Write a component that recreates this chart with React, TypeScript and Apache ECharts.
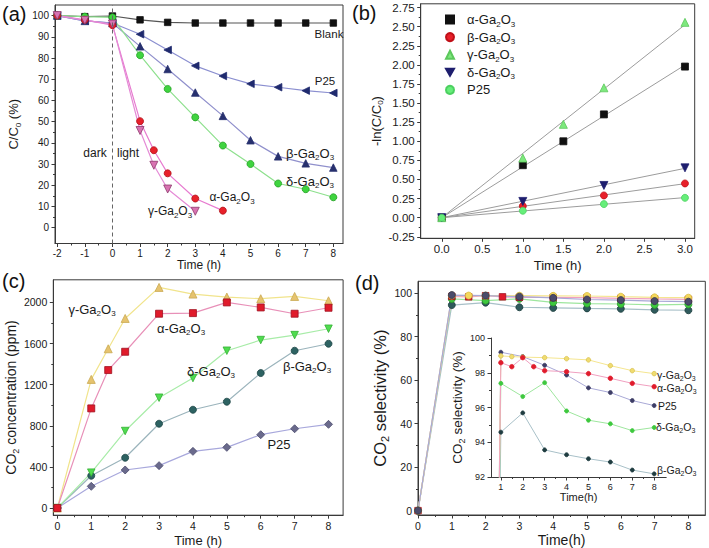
import React, { useEffect, useRef } from 'react';
import * as echarts from 'echarts';

const FONT = '"Liberation Sans", Arial, Helvetica, sans-serif';
const AX = '#3a3a3a';
const TXT = '#1a1a1a';

// ---------- (a) photocatalytic degradation ----------
const aTime = [-2, -1, 0, 1, 2, 3, 4, 5, 6, 7, 8];
const aBlank = [100, 99.5, 99.8, 98, 96.8, 96.5, 96.5, 96.5, 96.5, 96.5, 96.5];
const aP25 = [100, 97.5, 96.5, 91.2, 83.8, 76.3, 71.5, 67.8, 66.2, 64.6, 63.5];
const aBeta = [100, 97.5, 96.5, 85.5, 74.8, 63.7, 52.7, 41.2, 33.6, 30.3, 28.3];
const aDelta = [100, 99.5, 99.2, 81.3, 65.4, 52, 38.7, 30, 20.8, 18.1, 14.3];
const aAlphaTime = [-2, -1, 0, 1, 1.5, 2, 3, 4];
const aAlpha = [100, 98, 95.5, 50.2, 36.5, 25.6, 13.7, 8];
const aGammaTime = [-2, -1, 0, 1, 1.5, 2, 3];
const aGamma = [100, 97.8, 96, 45.8, 29.4, 18.2, 7.7];
const aXTicks = [-2, -1, 0, 1, 2, 3, 4, 5, 6, 7, 8];
const aYTicks = [0, 10, 20, 30, 40, 50, 60, 70, 80, 90, 100];

// ---------- (b) kinetics ----------
const bTimeAG = [0, 1, 1.5, 2, 3];
const bTime = [0, 1, 2, 3];
const bAlpha = [0, 0.687, 1.0, 1.352, 1.978];
const bGamma = [0, 0.78, 1.222, 1.7, 2.557];
const bBeta = [0, 0.152, 0.291, 0.448];
const bDelta = [0, 0.213, 0.422, 0.652];
const bP25 = [0, 0.091, 0.178, 0.26];
const bXTicks = [0, 0.5, 1, 1.5, 2, 2.5, 3];
const bYTicks = [-0.25, 0, 0.25, 0.5, 0.75, 1, 1.25, 1.5, 1.75, 2, 2.25, 2.5, 2.75];

// ---------- (c) CO2 concentration ----------
const cTimeAG = [0, 1, 1.5, 2, 3, 4, 5, 6, 7, 8];
const cTime = [0, 1, 2, 3, 4, 5, 6, 7, 8];
const cGamma = [0, 1251, 1549, 1844, 2146, 2081, 2052, 2036, 2058, 2016];
const cAlpha = [0, 969, 1342, 1520, 1890, 1896, 2000, 1951, 1890, 1948];
const cDelta = [0, 344, 749, 1073, 1264, 1530, 1634, 1682, 1744];
const cBeta = [0, 314, 489, 820, 956, 1034, 1313, 1530, 1598];
const cP25 = [0, 211, 370, 412, 551, 590, 713, 771, 814];
const cXTicks = [0, 1, 2, 3, 4, 5, 6, 7, 8];
const cYTicks = [0, 400, 800, 1200, 1600, 2000];

// ---------- (d) CO2 selectivity ----------
const dGammaTime = [0, 1, 1.5, 2, 3, 4, 5, 6, 7, 8];
const dGamma = [0, 98.97, 98.93, 98.9, 98.87, 98.81, 98.74, 98.41, 98.12, 97.95];
const dAlphaTime = [0, 1, 1.5, 2, 2.5, 3, 4, 5, 6, 7, 8];
const dAlpha = [0, 98.58, 98.35, 98.87, 98.35, 98.12, 98.06, 97.95, 97.68, 97.39, 97.2];
const dTime = [0, 1, 2, 3, 4, 5, 6, 7, 8];
const dP25 = [0, 99.18, 98.93, 98.43, 97.87, 97.13, 96.86, 96.4, 96.11];
const dDelta = [0, 97.39, 96.63, 97.43, 95.8, 95.27, 95.06, 94.67, 94.85];
const dBeta = [0, 94.58, 95.69, 93.56, 93.28, 93.05, 92.86, 92.4, 92.18];
const dXTicks = [0, 1, 2, 3, 4, 5, 6, 7, 8];
const dYTicks = [0, 20, 40, 60, 80, 100];
const iXTicks = [1, 2, 3, 4, 5, 6, 7, 8];
const iYTicks = [92, 94, 96, 98, 100];

// ---------- helpers ----------
const richify = (s: string) => '{t|' + s.replace('Ga2O3', 'Ga}{s|2}{t|O}{s|3') + '}';
const ecRich = (fs: number, weight = 'normal') => ({
  t: { fontSize: fs, fontFamily: FONT, color: TXT, lineHeight: fs + 4, fontWeight: weight },
  s: { fontSize: Math.round(fs * 0.64), fontFamily: FONT, color: TXT, verticalAlign: 'bottom', fontWeight: weight },
});
const zrRich = (fs: number) => ({
  t: { fontSize: fs, fontFamily: FONT, fill: TXT, lineHeight: fs + 4 },
  s: { fontSize: Math.round(fs * 0.64), fontFamily: FONT, fill: TXT, verticalAlign: 'bottom' },
});
const mids = (t: number[]) => t.slice(1).map((v, i) => (v + t[i]) / 2);
const zip = (xs: number[], ys: number[]) => xs.map((x, i) => [x, ys[i]]);

function mainX(gi: number, min: number, max: number, ticks: number[], fs: number, name: string, nameGap: number, nameFs: number, fmt?: (v: number) => string) {
  return {
    type: 'value', gridIndex: gi, min, max, position: 'bottom',
    axisLine: { show: true, onZero: false, lineStyle: { color: AX, width: 1 } },
    axisTick: { show: true, customValues: ticks, length: 3.5, lineStyle: { color: AX, width: 1 } },
    axisLabel: { show: true, customValues: ticks, color: TXT, fontSize: fs, fontFamily: FONT, margin: 5, formatter: fmt ? fmt : (v: number) => String(v) },
    splitLine: { show: false },
    name, nameLocation: 'middle', nameGap,
    nameTextStyle: { rich: ecRich(nameFs) },
  };
}
function mainY(gi: number, min: number, max: number, ticks: number[], fs: number, name: string, nameGap: number, nameFs: number, fmt?: (v: number) => string) {
  return {
    type: 'value', gridIndex: gi, min, max, position: 'left',
    axisLine: { show: true, onZero: false, lineStyle: { color: AX, width: 1 } },
    axisTick: { show: true, customValues: ticks, length: 3.5, lineStyle: { color: AX, width: 1 } },
    axisLabel: { show: true, customValues: ticks, color: TXT, fontSize: fs, fontFamily: FONT, margin: 6, formatter: fmt ? fmt : (v: number) => String(v) },
    splitLine: { show: false },
    name, nameLocation: 'middle', nameGap, nameRotate: 90,
    nameTextStyle: { rich: ecRich(nameFs) },
  };
}
function minorX(gi: number, min: number, max: number, ticks: number[]) {
  return {
    type: 'value', gridIndex: gi, min, max, position: 'bottom',
    axisLine: { show: false, onZero: false },
    axisTick: { show: true, customValues: ticks, length: 2, lineStyle: { color: AX, width: 1 } },
    axisLabel: { show: false }, splitLine: { show: false },
  };
}
function minorY(gi: number, min: number, max: number, ticks: number[]) {
  return {
    type: 'value', gridIndex: gi, min, max, position: 'left',
    axisLine: { show: false, onZero: false },
    axisTick: { show: true, customValues: ticks, length: 2, lineStyle: { color: AX, width: 1 } },
    axisLabel: { show: false }, splitLine: { show: false },
  };
}
function ser(name: string, gi: number, xs: number[], ys: number[], symbol: string, size: number, color: string, border: string, lineColor: string, rotate = 0, lineWidth = 1.2) {
  return {
    name, type: 'line', xAxisIndex: gi, yAxisIndex: gi, data: zip(xs, ys),
    symbol, symbolSize: size, symbolRotate: rotate, showAllSymbol: true, clip: true,
    itemStyle: { color, borderColor: border, borderWidth: 0.8, opacity: 1 },
    lineStyle: { color: lineColor, width: lineWidth },
    emphasis: { disabled: true }, silent: true,
  };
}
function fitLine(name: string, xs: number[], ys: number[]) {
  let sxy = 0, sxx = 0;
  xs.forEach((x, i) => { sxy += x * ys[i]; sxx += x * x; });
  const k = sxy / sxx;
  const xm = Math.max(...xs);
  return {
    name, type: 'line', xAxisIndex: 1, yAxisIndex: 1, data: [[0, 0], [xm, k * xm]],
    symbol: 'none', lineStyle: { color: '#9c9c9c', width: 1 }, silent: true, z: 1,
  };
}
function gText(x: number, y: number, s: string, fs: number, align = 'center') {
  return {
    type: 'text', x, y, silent: true, z: 50,
    style: { text: richify(s), rich: zrRich(fs), align, verticalAlign: 'middle', fill: TXT, fontSize: fs, fontFamily: FONT },
  };
}
function panelLabel(x: number, y: number, s: string) {
  return { type: 'text', x, y, silent: true, style: { text: s, fontSize: 20, fontFamily: FONT, fill: '#111' } };
}

const DOWN = 'path://M0,0L10,0L5,8.66Z';

export default function App() {
  const ref = useRef<HTMLDivElement>(null);
  useEffect(() => {
    if (!ref.current) return;
    const chart = echarts.init(ref.current, null, { renderer: 'svg' });
    const gridBase = { show: true, borderColor: AX, borderWidth: 1, backgroundColor: 'transparent', containLabel: false, outerBoundsMode: 'none' };
    const option: any = {
      animation: false,
      backgroundColor: '#ffffff',
      textStyle: { fontFamily: FONT },
      grid: [
        { ...gridBase, left: 55, top: 5, width: 288, height: 238.5 },
        { ...gridBase, left: 420.7, top: 3.8, width: 274, height: 234.5 },
        { ...gridBase, left: 53.3, top: 279.8, width: 289.8, height: 235.4 },
        { ...gridBase, left: 418, top: 281.3, width: 287.3, height: 233.7 },
        { ...gridBase, show: false, left: 491, top: 338, width: 175.2, height: 139 },
      ],
      xAxis: [
        mainX(0, -2.08, 8.35, aXTicks, 10, '{t|Time (h)}', 13, 12),
        mainX(1, -0.26, 3.12, bXTicks, 11.5, '{t|Time (h)}', 19, 13, (v) => v.toFixed(1)),
        mainX(2, -0.12, 8.43, cXTicks, 10.5, '{t|Time (h)}', 17, 13),
        mainX(3, 0, 8.5, dXTicks, 10.5, '{t|Time(h)}', 16, 14),
        mainX(4, 0.55, 8.55, iXTicks, 9, '{t|Time(h)}', 12, 11),
        minorX(0, -2.08, 8.35, mids(aXTicks)),
        minorX(1, -0.26, 3.12, mids(bXTicks)),
        minorX(2, -0.12, 8.43, mids(cXTicks)),
        minorX(3, 0, 8.5, mids(dXTicks)),
        minorX(4, 0.55, 8.55, mids(iXTicks)),
      ],
      yAxis: [
        mainY(0, -7.5, 105, aYTicks, 10, '{t|C/C}{s|0}{t| (%)}', 33, 13),
        mainY(1, -0.27, 2.8, bYTicks, 11.5, '{t|-ln(C/C}{s|0}{t|)}', 33, 13, (v) => v.toFixed(2)),
        mainY(2, -70, 2220, cYTicks, 10.5, '{t|CO}{s|2}{t| concentration (ppm)}', 30, 14),
        mainY(3, -2, 105.5, dYTicks, 10.5, '{t|CO}{s|2}{t| selectivity (%)}', 25, 16.5),
        mainY(4, 92, 100, iYTicks, 9, '{t|CO}{s|2}{t| selectivity (%)}', 15, 13.5),
        minorY(0, -7.5, 105, mids(aYTicks)),
        minorY(1, -0.27, 2.8, mids(bYTicks)),
        minorY(2, -70, 2220, mids(cYTicks)),
        minorY(3, -2, 105.5, mids(dYTicks)),
        minorY(4, 92, 100, mids(iYTicks)),
      ],
      legend: {
        show: true, orient: 'vertical', left: 440, top: 8, itemWidth: 8, itemHeight: 8, itemGap: 2.6,
        selectedMode: false,
        textStyle: { rich: ecRich(13), padding: [0, 0, 0, 8] },
        formatter: (n: string) => richify(n),
        data: [
          { name: 'α-Ga2O3', icon: 'rect' },
          { name: 'β-Ga2O3', icon: 'circle' },
          { name: 'γ-Ga2O3', icon: 'triangle' },
          { name: 'δ-Ga2O3', icon: DOWN },
          { name: 'P25', icon: 'circle' },
        ],
      },
      series: [
        // (a)
        {
          ...ser('a Blank', 0, aTime, aBlank, 'rect', 6.5, '#111111', '#111111', '#555555'),
          markLine: {
            silent: true, symbol: ['none', 'none'], label: { show: false },
            lineStyle: { type: [4, 3], color: '#666666', width: 1 },
            data: [{ xAxis: 0 }],
          },
        },
        ser('a P25', 0, aTime, aP25, 'triangle', 7.5, '#1f2a6e', '#1f2a6e', '#8b8fd0', 90),
        ser('a beta', 0, aTime, aBeta, 'triangle', 7.5, '#27306e', '#27306e', '#9090cc'),
        ser('a delta', 0, aTime, aDelta, 'circle', 7, '#3fd43f', '#23a023', '#8de08d'),
        ser('a alpha', 0, aAlphaTime, aAlpha, 'circle', 7, '#e8202a', '#b01018', '#e77bd0'),
        ser('a gamma', 0, aGammaTime, aGamma, 'triangle', 8, '#d873b2', '#8e3a6c', '#e58bd6', 180),
        // (b)
        fitLine('fit alpha', bTimeAG, bAlpha),
        fitLine('fit gamma', bTimeAG, bGamma),
        fitLine('fit beta', bTime, bBeta),
        fitLine('fit delta', bTime, bDelta),
        fitLine('fit p25', bTime, bP25),
        { ...ser('α-Ga2O3', 1, bTimeAG, bAlpha, 'rect', 7, '#111111', '#111111', '#9c9c9c'), lineStyle: { width: 0 } },
        { ...ser('β-Ga2O3', 1, bTime, bBeta, 'circle', 7, '#e8202a', '#c01018', '#9c9c9c'), lineStyle: { width: 0 } },
        { ...ser('γ-Ga2O3', 1, bTimeAG, bGamma, 'triangle', 8, '#7ee87e', '#5cc85c', '#9c9c9c'), lineStyle: { width: 0 } },
        { ...ser('δ-Ga2O3', 1, bTime, bDelta, 'triangle', 8, '#1e1e6e', '#1e1e6e', '#9c9c9c', 180), lineStyle: { width: 0 } },
        { ...ser('P25', 1, bTime, bP25, 'circle', 7, '#66ee7a', '#4cd060', '#9c9c9c'), lineStyle: { width: 0 } },
        // (c)
        ser('c P25', 2, cTime, cP25, 'diamond', 8, '#6a6a8c', '#4a4a6c', '#a8a8dc'),
        ser('c beta', 2, cTime, cBeta, 'circle', 7, '#2d6262', '#1c4444', '#9bb4bc'),
        ser('c delta', 2, cTime, cDelta, 'triangle', 7.5, '#4fdc4f', '#34b034', '#a8eca8', 180),
        ser('c gamma', 2, cTimeAG, cGamma, 'triangle', 8, '#e6c36e', '#c9a850', '#f1e48c'),
        ser('c alpha', 2, cTimeAG, cAlpha, 'rect', 7, '#e01b2b', '#a01020', '#e890b8'),
        // (d) main
        ser('d beta', 3, dTime, dBeta, 'circle', 7, '#2f5a5c', '#1c3c3c', '#a8c0c8'),
        ser('d delta', 3, dTime, dDelta, 'circle', 7, '#3ec83e', '#2a9a2a', '#9ee69e'),
        ser('d alpha', 3, dAlphaTime, dAlpha, 'rect', 6.5, '#e01c2c', '#a01020', '#f0a0c0'),
        ser('d gamma', 3, dGammaTime, dGamma, 'circle', 7, '#f4d85c', '#d8bc40', '#f5e690'),
        ser('d P25', 3, dTime, dP25, 'circle', 7, '#4b4b6b', '#33334d', '#a9a9d6'),
        // (d) inset
        ser('i beta', 4, dTime, dBeta, 'circle', 4, '#1f3c40', '#1f3c40', '#a8c0c8', 0, 1),
        ser('i delta', 4, dTime, dDelta, 'circle', 4, '#3ec83e', '#3ec83e', '#9ee69e', 0, 1),
        ser('i P25', 4, dTime, dP25, 'circle', 4, '#3d3d66', '#3d3d66', '#a9a9d6', 0, 1),
        ser('i gamma', 4, dGammaTime, dGamma, 'circle', 4.5, '#f0dc70', '#d8c050', '#f5e690', 0, 1),
        ser('i alpha', 4, dAlphaTime, dAlpha, 'circle', 4.5, '#e01c2c', '#e01c2c', '#f0a0c0', 0, 1),
      ],
      graphic: [
        panelLabel(2, 4, '(a)'),
        panelLabel(352, 3, '(b)'),
        panelLabel(2, 271, '(c)'),
        panelLabel(355, 273, '(d)'),
        // (a) annotations
        gText(329, 34, 'Blank', 11.5),
        gText(325, 81, 'P25', 11.5),
        gText(310, 153, 'β-Ga2O3', 13),
        gText(310, 181, 'δ-Ga2O3', 13),
        gText(232, 197, 'α-Ga2O3', 12),
        gText(170, 211, 'γ-Ga2O3', 12),
        gText(95, 153, 'dark', 12),
        gText(128, 153, 'light', 12),
        // (c) annotations
        gText(92, 309, 'γ-Ga2O3', 13),
        gText(181, 328, 'α-Ga2O3', 13),
        gText(211, 371, 'δ-Ga2O3', 13),
        gText(307, 366, 'β-Ga2O3', 13),
        gText(279, 444, 'P25', 13),
        // inset annotations
        gText(657, 375, 'γ-Ga2O3', 10.5, 'left'),
        gText(657, 388, 'α-Ga2O3', 10.5, 'left'),
        gText(658, 406, 'P25', 10.5, 'left'),
        gText(656, 427, 'δ-Ga2O3', 10.5, 'left'),
        gText(657, 470, 'β-Ga2O3', 10.5, 'left'),
      ],
    };
    chart.setOption(option);
    return () => chart.dispose();
  }, []);
  return <div ref={ref} style={{ position: 'absolute', left: 0, top: 0, width: 709, height: 548, background: '#fff' }} />;
}
